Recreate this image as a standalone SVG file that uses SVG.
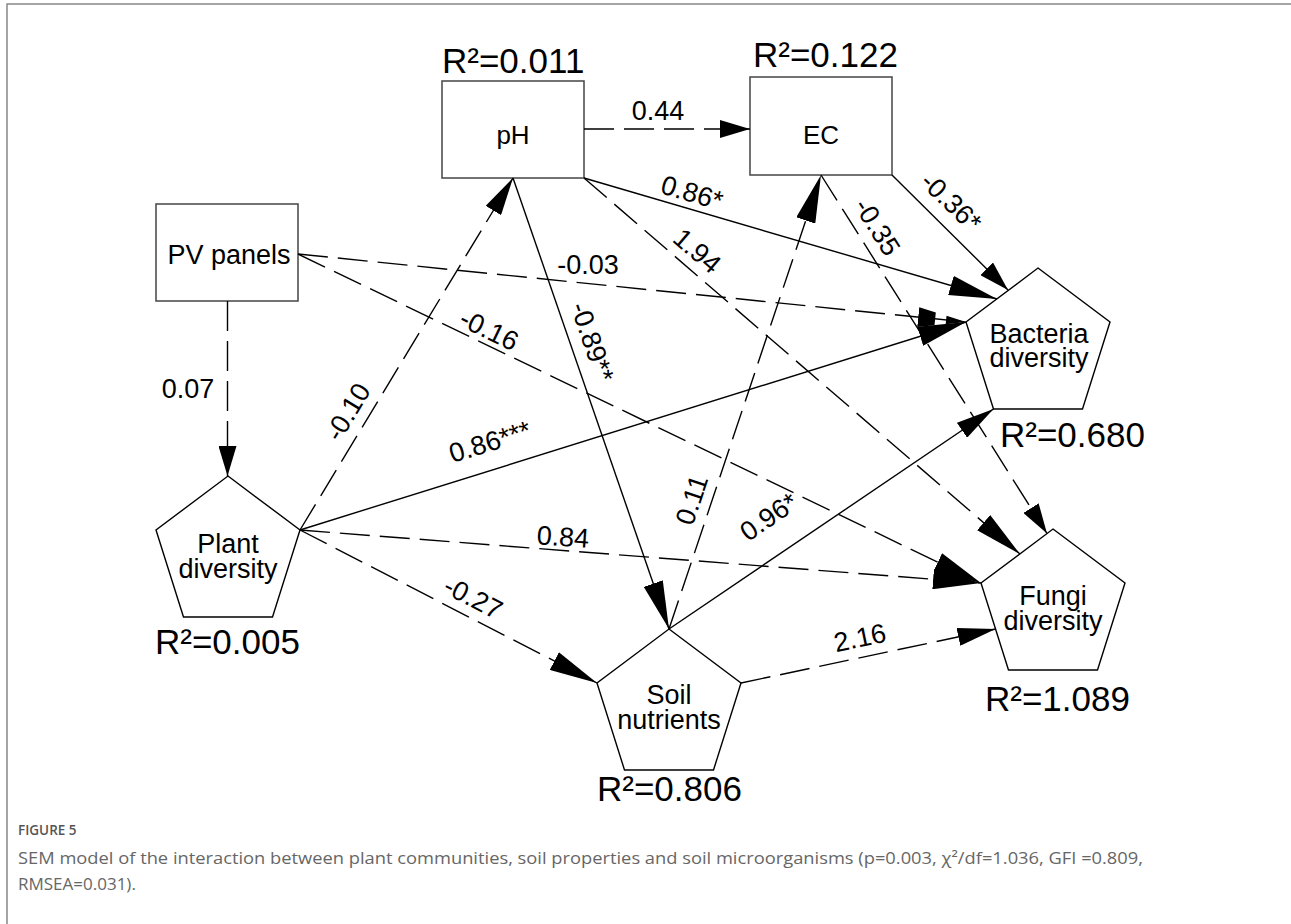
<svg xmlns="http://www.w3.org/2000/svg" width="1291" height="924" viewBox="0 0 1291 924">
<style>
.box{fill:#fff;stroke:#444;stroke-width:1.5}
.pent{fill:#fff;stroke:#000;stroke-width:1.4}
text{font-family:"Liberation Sans",Arial,sans-serif;fill:#000}
.node{font-size:27px;text-anchor:middle}
.boxt{font-size:26px;text-anchor:middle}
.r2{font-size:35px}
.el{font-size:27px;text-anchor:middle}
.solid{stroke:#000;stroke-width:1.4;fill:none}
.dash{stroke:#000;stroke-width:1.4;fill:none;stroke-dasharray:30 10}
.cap{font-family:"Open Sans","Noto Sans",sans-serif;fill:#666}
.frame{stroke:#888;stroke-width:1.5;fill:none}
</style>
<defs>
<marker id="aL" markerUnits="userSpaceOnUse" markerWidth="48" markerHeight="20" viewBox="0 0 48 20" refX="48" refY="10" orient="auto"><path d="M0,0 L48,10 L0,20 Z" fill="#000"/></marker>
<marker id="aLd" markerUnits="userSpaceOnUse" markerWidth="48" markerHeight="20" viewBox="0 0 48 20" refX="48" refY="10" orient="auto"><path d="M0,0 L17,3.5 L17,16.5 L0,20 Z M28,5.8 L48,10 L28,14.2 Z" fill="#000"/></marker>
<marker id="aM" markerUnits="userSpaceOnUse" markerWidth="38" markerHeight="18" viewBox="0 0 38 18" refX="38" refY="9" orient="auto"><path d="M0,0 L38,9 L0,18 Z" fill="#000"/></marker>
<marker id="aS" markerUnits="userSpaceOnUse" markerWidth="30" markerHeight="18" viewBox="0 0 30 18" refX="30" refY="9" orient="auto"><path d="M0,0 L30,9 L0,18 Z" fill="#000"/></marker>
</defs>
<rect width="1291" height="924" fill="#fff"/>
<path class="frame" d="M7,924 V4 H1291"/>

<g id="node-pH">
<rect class="box" x="442" y="81" width="142" height="97"/>
<text class="boxt" x="513" y="144">pH</text>
<text class="r2" x="442" y="73">R²=0.011</text>
</g>
<g id="node-EC">
<rect class="box" x="750" y="77" width="142" height="98"/>
<text class="boxt" x="821" y="144">EC</text>
<text class="r2" x="753" y="67">R²=0.122</text>
</g>
<g id="node-PV">
<rect class="box" x="156" y="204" width="142" height="97"/>
<text class="node" x="229" y="264">PV panels</text>
</g>
<g id="node-plant">
<polygon class="pent" points="228,476 300,530 272.5,617 183.5,617 156,530"/>
<text class="node"><tspan x="228" y="553">Plant</tspan><tspan x="228" y="578">diversity</tspan></text>
<text class="r2" x="155" y="654">R²=0.005</text>
</g>
<g id="node-bacteria">
<polygon class="pent" points="1038,268 1110,322 1082.5,409 993.5,409 966,322"/>
<text class="node"><tspan x="1039" y="343">Bacteria</tspan><tspan x="1039" y="367">diversity</tspan></text>
<text class="r2" x="1000" y="447">R²=0.680</text>
</g>
<g id="node-soil">
<polygon class="pent" points="669,629 741,683 713.5,770 624.5,770 597,683"/>
<text class="node"><tspan x="669" y="704">Soil</tspan><tspan x="669" y="729">nutrients</tspan></text>
<text class="r2" x="597" y="801">R²=0.806</text>
</g>
<g id="node-fungi">
<polygon class="pent" points="1053,529 1125,583 1097.5,670 1008.5,670 981,583"/>
<text class="node"><tspan x="1053" y="605">Fungi</tspan><tspan x="1053" y="630">diversity</tspan></text>
<text class="r2" x="985" y="711">R²=1.089</text>
</g>

<g id="connectors">
<path class="dash" d="M584,129 L750,129" marker-end="url(#aS)"/>
<path class="dash" d="M227.5,301 L227.5,476" marker-end="url(#aS)"/>
<path class="dash" d="M298,254 L966,322" marker-end="url(#aLd)"/>
<path class="dash" d="M298,254 L981,583" marker-end="url(#aL)"/>
<path class="dash" d="M300,530 L513,178" marker-end="url(#aM)"/>
<path class="solid" d="M300,530 L966,322" marker-end="url(#aL)"/>
<path class="dash" d="M300,530 L981,583" marker-end="url(#aL)"/>
<path class="dash" d="M300,530 L597,683" marker-end="url(#aL)"/>
<path class="solid" d="M513,178 L669,629" marker-end="url(#aL)"/>
<path class="dash" d="M669,629 L821,175" marker-end="url(#aL)"/>
<path class="solid" d="M669,629 L993.5,409" marker-end="url(#aM)"/>
<path class="dash" d="M741,683 L995.6,629" marker-end="url(#aM)"/>
<path class="solid" d="M584,178 L997,299" marker-end="url(#aL)"/>
<path class="dash" d="M584,178 L1020,554" marker-end="url(#aL)"/>
<path class="dash" d="M821,175 L1047,533.5" marker-end="url(#aS)"/>
<path class="solid" d="M892,175 L1008,290" marker-end="url(#aS)"/>

<text class="el" x="658" y="120">0.44</text>
<text class="el" x="188" y="398">0.07</text>
<text class="el" x="588" y="274">-0.03</text>
<text class="el" transform="translate(489,330) rotate(25.8)" y="9">-0.16</text>
<text class="el" transform="translate(348,412) rotate(-58.8)" y="9">-0.10</text>
<text class="el" transform="translate(490,442) rotate(-17.3)" y="9">0.86***</text>
<text class="el" transform="translate(563,537) rotate(4)" y="9">0.84</text>
<text class="el" transform="translate(473,598) rotate(27.1)" y="9">-0.27</text>
<text class="el" transform="translate(592,342) rotate(70.9)" y="9">-0.89**</text>
<text class="el" transform="translate(692,500) rotate(-71.5)" y="9">0.11</text>
<text class="el" transform="translate(769,517) rotate(-34.1)" y="9">0.96*</text>
<text class="el" transform="translate(860,638) rotate(-11.7)" y="9">2.16</text>
<text class="el" transform="translate(692,193) rotate(16.5)" y="9">0.86*</text>
<text class="el" transform="translate(697,251) rotate(40.7)" y="9">1.94</text>
<text class="el" transform="translate(877,227) rotate(57.8)" y="9">-0.35</text>
<text class="el" transform="translate(951,202) rotate(44)" y="9">-0.36*</text>
</g>

<text class="cap" x="18" y="835" style="font-size:13.5px;font-weight:600;fill:#555">FIGURE 5</text>
<text class="cap" x="18" y="864" style="font-size:17px" textLength="1125" lengthAdjust="spacingAndGlyphs">SEM model of the interaction between plant communities, soil properties and soil microorganisms (p=0.003, χ²/df=1.036, GFI =0.809,</text>
<text class="cap" x="18" y="890" style="font-size:17px">RMSEA=0.031).</text>
</svg>
